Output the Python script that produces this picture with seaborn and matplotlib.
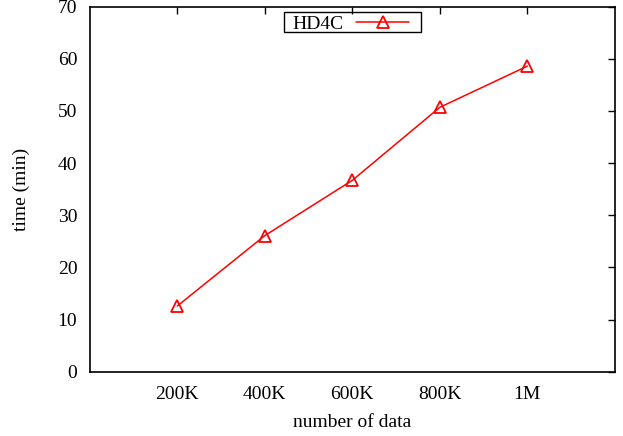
import numpy as np
import pandas as pd
import matplotlib
matplotlib.use("Agg")
import matplotlib.pyplot as plt
import matplotlib.patches as mpatches
import seaborn as sns

# Dataset sizes and measured running time
sizes = ["200K", "400K", "600K", "800K", "1M"]
minutes = [12.6, 26.1, 36.7, 50.7, 58.6]
series_name = "HD4C"

sns.set_theme(style="white")
plt.rcParams["font.family"] = ["Liberation Serif", "DejaVu Serif"]
plt.rcParams["text.color"] = "black"
plt.rcParams["axes.labelcolor"] = "black"

df = pd.DataFrame({
    "pos": np.arange(1, len(sizes) + 1),
    "minutes": minutes,
    "series": series_name,
})

W, H = 623, 436
fig = plt.figure(figsize=(W / 100, H / 100), dpi=100)
ax = fig.add_axes([89.8 / W, 1 - 371.7 / H, 525 / W, 365 / H])

sns.lineplot(
    data=df, x="pos", y="minutes", hue="series", palette=["#ff0000"],
    marker="^", markersize=8.8, markerfacecolor="none", markeredgecolor="#ff0000",
    markeredgewidth=1.3, linewidth=1.1, ax=ax,
)

fs = 14
ax.set_xlim(0, 6)
ax.set_ylim(0, 70)
ax.set_xticks(df["pos"])
ax.set_xticklabels(sizes)
ax.set_yticks(np.arange(0, 71, 10))
ax.tick_params(direction="in", length=5, width=1, top=True, right=True,
               labelsize=fs, colors="black", pad=9)
ax.tick_params(axis="x", pad=10)
for s in ax.spines.values():
    s.set_color("black")
    s.set_linewidth(1.2)

ax.set_xlabel("number of data", fontsize=fs, labelpad=8)
ax.set_ylabel("time (min)", fontsize=fs, labelpad=20)

# key: text first, then the line sample, inside a tight rectangular box
leg = ax.legend(loc="upper left", bbox_to_anchor=(292 / W, 1 - 15.5 / H),
                bbox_transform=fig.transFigure, markerfirst=False,
                fontsize=fs, frameon=False, handlelength=2.7,
                borderpad=0, handletextpad=0.68, borderaxespad=0)
for t in leg.get_texts():
    t.set_color("black")
fig.add_artist(mpatches.Rectangle((284 / W, 1 - 32.5 / H), 137 / W, 20 / H,
                                  transform=fig.transFigure, fill=False,
                                  edgecolor="black", linewidth=1.0, zorder=5))

fig.savefig("out.png", dpi=100)
